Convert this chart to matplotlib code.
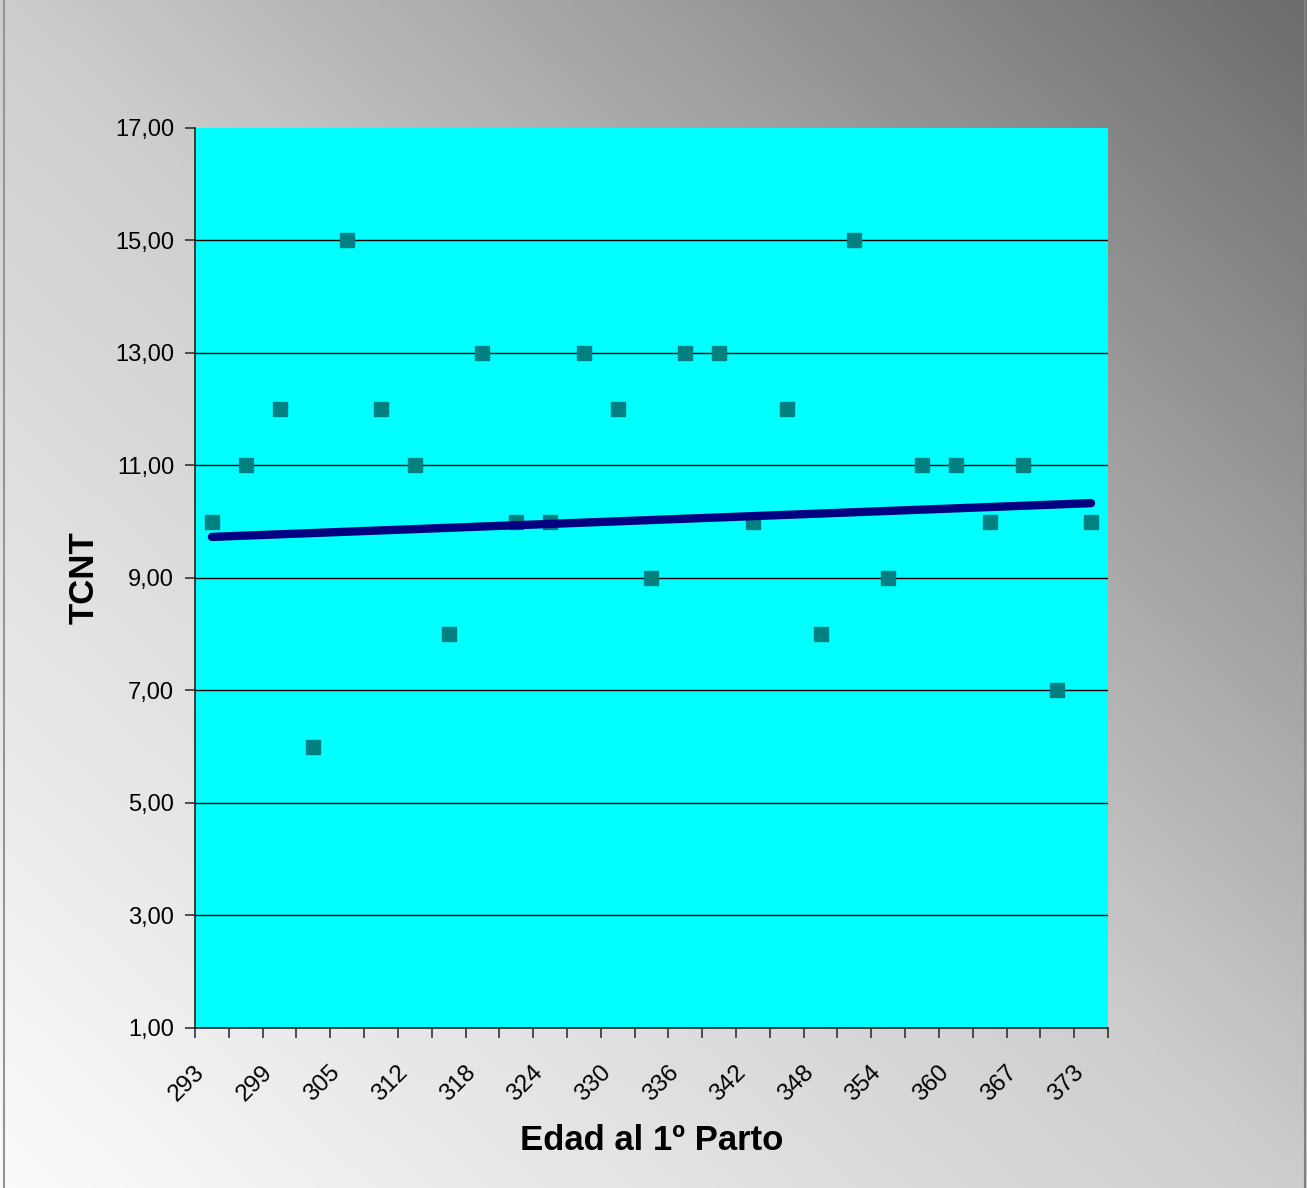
import matplotlib.pyplot as plt
from matplotlib.colors import LinearSegmentedColormap
from matplotlib.lines import Line2D
import numpy as np

# Edad al 1º parto (categories) vs TCNT
edad = [293, 296, 299, 302, 305, 309, 312, 315, 318, 321, 324, 327, 330, 333,
        336, 339, 342, 345, 348, 351, 354, 357, 360, 364, 367, 370, 373]
tcnt = [10, 11, 12, 6, 15, 12, 11, 8, 13, 10, 10, 13, 12, 9,
        13, 13, 10, 12, 8, 15, 9, 11, 11, 10, 11, 7, 10]
# linear trend line, value at first and last category
trend_ends = [9.73, 10.33]

y_ticks = [1, 3, 5, 7, 9, 11, 13, 15, 17]

plt.rcParams['font.family'] = ['Liberation Sans', 'DejaVu Sans']

fig = plt.figure(figsize=(13.07, 11.88), dpi=100)

# diagonal gray gradient behind everything (white bottom-left, dark top-right)
bg_cmap = LinearSegmentedColormap.from_list(
    'bg', [(0.0, '#fbfbfb'), (0.5, '#cdcdcd'), (0.75, '#9e9e9e'), (1.0, '#6c6c6c')])
bg = fig.add_axes([0, 0, 1, 1], zorder=-10)
gx, gy = np.meshgrid(np.linspace(0, 1, 400), np.linspace(0, 1, 400))
grad = (gx + gy) / 2
bg.imshow(grad, cmap=bg_cmap, vmin=0, vmax=1, origin='lower',
          extent=[0, 1, 0, 1], aspect='auto', interpolation='bilinear')
bg.set_axis_off()
fig.add_artist(Line2D([0.0027, 0.0027], [0, 1], color='#959595', lw=1.5))
fig.add_artist(Line2D([0.9985, 0.9985], [0, 1], color='#808080', lw=1.5))

ax = fig.add_axes([0.1492, 0.1347, 0.6985, 0.7576])
ax.set_facecolor('#00ffff')

x = np.arange(len(edad))
ax.plot(x, tcnt, linestyle='none', marker='s', markersize=10,
        color='#008080', zorder=3)
ax.plot([x[0], x[-1]], trend_ends, color='#000080', lw=6,
        solid_capstyle='round', zorder=4)

ax.set_xlim(-0.5, len(edad) - 0.5)
ax.set_ylim(1, 17)
ax.set_yticks(y_ticks)
ax.set_yticklabels([f"{v:.2f}".replace('.', ',') for v in y_ticks], fontsize=17)
ax.yaxis.grid(True, color='black', lw=1)
ax.get_ygridlines()[-1].set_visible(False)
ax.set_axisbelow(True)

# ticks at category boundaries, labels on every other category (Excel style)
ax.set_xticks(np.arange(len(edad) + 1) - 0.5)
ax.set_xticklabels([])
for xi, v in zip(x[::2], edad[::2]):
    ax.annotate(str(v), xy=(xi, 0), xycoords=('data', 'axes fraction'),
                xytext=(-13, -24), textcoords='offset points', fontsize=17.5,
                rotation=45, ha='right', va='top', rotation_mode='anchor',
                annotation_clip=False)
ax.tick_params(axis='x', which='major', length=7, width=1.2, color='#333333')
ax.tick_params(axis='y', length=7, width=1.2, color='#333333', pad=8)

for side in ['top', 'right']:
    ax.spines[side].set_visible(False)
for side in ['left', 'bottom']:
    ax.spines[side].set_color('#222222')
    ax.spines[side].set_linewidth(1.2)

fig.text(0.4985, 0.04, 'Edad al 1º Parto', ha='center', va='center',
         fontsize=25, fontweight='bold')
fig.text(0.064, 0.5135, 'TCNT', ha='center', va='center', rotation=90,
         fontsize=25, fontweight='bold')

plt.savefig('out.png', dpi=100)
